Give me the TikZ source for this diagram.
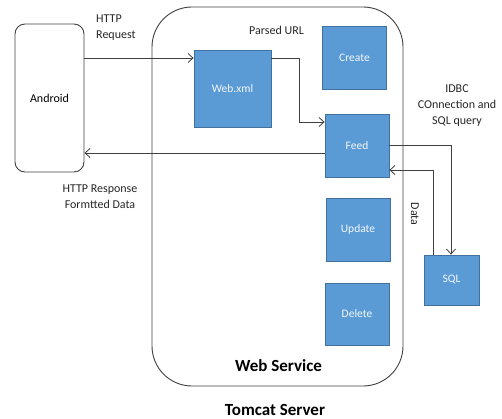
\documentclass[tikz,border=0pt]{standalone}
\usepackage{fontspec}
\setmainfont{Carlito}
\usetikzlibrary{arrows.meta}
\definecolor{boxfill}{HTML}{5B9BD5}
\definecolor{boxedge}{HTML}{41719C}
\definecolor{linegray}{HTML}{404040}
\tikzset{
  blue box/.style={draw=boxedge, fill=boxfill, line width=0.8pt, text=white!92!boxfill, font=\fontsize{11.5}{13}\selectfont, inner sep=0pt},
  label text/.style={font=\fontsize{12}{16}\selectfont, text=black!85, inner sep=0pt},
  conn/.style={draw=linegray, line width=0.8pt, -{Straight Barb[length=5pt,width=9pt]}},
}
\begin{document}
\begin{tikzpicture}[x=1pt,y=-1pt]
\useasboundingbox (0,0) rectangle (502,419);
% boxes
\node[draw=linegray, line width=0.9pt, rounded corners=10pt, minimum width=69pt, minimum height=148pt, inner sep=0pt, font=\fontsize{12}{13}\selectfont] (android) at (49.5,98) {Android};
\node[draw=linegray, line width=0.9pt, rounded corners=40pt, minimum width=251pt, minimum height=379pt, inner sep=0pt] (tomcat) at (277.5,196.5) {};
\node[blue box, minimum width=77pt, minimum height=77pt] (webxml) at (232.5,88.5) {Web.xml};
\node[blue box, minimum width=64pt, minimum height=63pt] (create) at (354.5,57.5) {Create};
\node[blue box, minimum width=64pt, minimum height=63pt] (feed) at (357,145.5) {Feed};
\node[blue box, minimum width=64pt, minimum height=63pt] (update) at (358,229.5) {Update};
\node[blue box, minimum width=64pt, minimum height=62pt] (delete) at (357,314) {Delete};
\node[blue box, minimum width=55pt, minimum height=50pt] (sql) at (451.5,280) {SQL};
% connectors
\draw[conn] (android.east |- 0,58) -- (webxml.west |- 0,58);
\draw[conn] (feed.west |- 0,153) -- (android.east |- 0,153);
\draw[conn] (webxml.east |- 0,58) -- (299,58) -- (299,122) -- (feed.west |- 0,122);
\draw[conn] (feed.east |- 0,145) -- (451,145) -- (sql.north -| 451,0);
\draw[conn] (sql.north -| 433,0) -- (433,170) -- (feed.east |- 0,170);
% labels
\node[label text, align=left, anchor=north west] (req) at (96,15) {HTTP\\Request};
\node[label text, align=center] (resp) at (100,197) {HTTP Response\\Formtted Data};
\node[label text, anchor=west] (purl) at (249,30) {Parsed URL};
\node[label text, align=center] (jdbc) at (457,105.5) {IDBC\\COnnection and\\SQL query};
\node[label text, rotate=-90] (data) at (415,214) {Data};
\node[font=\bfseries\fontsize{17}{19}\selectfont] (ws) at (278.5,366) {Web Service};
\node[font=\bfseries\fontsize{17}{19}\selectfont] (ts) at (275,410) {Tomcat Server};
\end{tikzpicture}
\end{document}
